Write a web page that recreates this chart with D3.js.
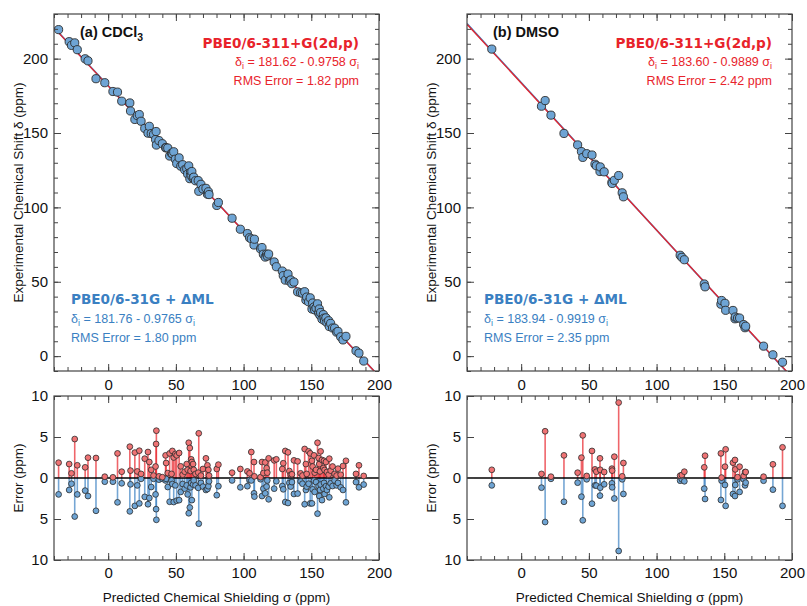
<!DOCTYPE html>
<html>
<head>
<meta charset="utf-8">
<script src="https://cdn.jsdelivr.net/npm/d3@7"></script>
<style>
  body { margin: 0; background: #fff; }
  svg { font-family: "Liberation Sans", Arial, sans-serif; }
</style>
</head>
<body>
<svg id="chart" width="807" height="606"></svg>
<script>
// ---- data ----
var xTicks = [0, 50, 100, 150, 200];
var yTicks = [0, 50, 100, 150, 200];
var errTicks = [-10, -5, 0, 5, 10];

// panel (a) CDCl3 : predicted shielding, experimental shift, |error| of each method
var sigmaA = [-36.6, -28.8, -27.1, -24.7, -22.8, -17.0, -14.9, -9.0, -2.5, 3.5,
  6.9, 10.0, 16.0, 16.5, 19.7, 21.5, 23.0, 24.3, 27.0, 29.4,
  30.4, 31.8, 33.5, 35.0, 35.4, 35.6, 37.5, 40.0, 42.4, 42.8,
  44.0, 45.4, 46.8, 47.4, 48.4, 49.6, 50.6, 52.4, 53.6, 55.0,
  56.5, 58.0, 58.7, 59.5, 60.3, 60.8, 61.3, 61.8, 62.7, 63.2,
  64.5, 66.5, 66.9, 68.5, 70.0, 72.2, 73.3, 74.0, 74.5, 80.2,
  81.4, 91.5, 97.6, 102.8, 104.4, 105.7, 107.7, 108.0, 112.5, 113.6,
  114.6, 116.0, 117.0, 117.5, 118.5, 122.6, 124.2, 128.6, 129.3, 130.8,
  132.8, 133.8, 134.8, 135.7, 137.2, 139.9, 142.1, 143.5, 145.1, 146.0,
  146.6, 148.0, 149.2, 150.5, 151.0, 152.0, 152.5, 153.5, 154.6, 155.4,
  155.9, 156.4, 156.9, 157.9, 158.9, 159.4, 159.8, 160.8, 161.5, 162.8,
  163.3, 164.3, 165.7, 167.2, 168.7, 169.7, 171.7, 173.4, 175.6, 183.0,
  185.2, 188.7];
var deltaA = [219.5, 211.4, 208.9, 210.6, 206.0, 199.9, 198.5, 186.5, 183.8, 177.9,
  177.5, 171.4, 170.2, 164.8, 159.1, 161.7, 162.4, 157.9, 153.1, 149.9,
  154.5, 149.6, 149.1, 145.6, 151.0, 141.9, 144.9, 142.8, 140.1, 140.1,
  139.9, 134.5, 136.4, 136.2, 137.4, 132.4, 129.5, 133.3, 127.7, 128.7,
  125.3, 126.0, 122.4, 127.9, 119.3, 123.5, 121.3, 124.1, 119.7, 120.3,
  117.9, 118.0, 110.8, 115.5, 112.4, 112.8, 108.9, 110.5, 108.6, 101.3,
  103.3, 92.7, 85.3, 82.4, 79.6, 78.8, 74.7, 78.6, 72.1, 73.0,
  68.5, 66.6, 68.6, 67.3, 68.6, 63.3, 60.1, 57.2, 54.1, 51.1,
  55.2, 50.5, 51.2, 48.7, 49.8, 43.2, 42.6, 42.3, 43.3, 37.7,
  39.7, 36.5, 39.2, 31.7, 35.7, 33.0, 31.1, 32.4, 35.2, 29.0,
  31.7, 27.5, 29.3, 24.9, 27.9, 25.5, 23.8, 25.7, 22.6, 23.8,
  19.9, 22.0, 18.9, 18.8, 16.1, 16.6, 13.0, 10.9, 13.3, 3.6,
  2.0, -3.3];
var errRedA = [1.87, 1.7, 0.57, 4.75, 1.55, 1.3, 2.48, 2.44, 0.16, 0.08,
  3.0, 0.77, 3.82, 0.9, 3.1, 0.8, 3.33, 0.5, 2.36, 3.17,
  1.95, 1.0, 0.3, 1.4, 4.15, 5.77, 0.2, 0.1, 2.76, 1.83,
  0.6, 3.0, 0.5, 3.3, 2.5, 2.93, 2.76, 3.05, 1.42, 0.4,
  0.77, 1.7, 1.0, 4.3, 3.66, 0.85, 2.28, 1.95, 1.7, 1.0,
  0.5, 0.65, 5.45, 0.3, 1.1, 2.4, 1.55, 1.0, 0.3, 1.1,
  1.63, 0.65, 1.1, 0.8, 0.57, 3.17, 1.95, 0.2, 0.1, 1.95,
  0.6, 1.9, 1.2, 0.65, 2.4, 2.15, 2.28, 1.1, 1.8, 3.3,
  3.13, 0.85, 0.4, 0.45, 2.15, 2.03, 0.57, 0.3, 3.54, 1.7,
  0.5, 3.25, 3.0, 2.1, 1.4, 2.76, 0.65, 1.0, 4.3, 2.44,
  1.7, 0.8, 3.25, 2.2, 1.22, 2.1, 0.98, 1.95, 0.73, 0.4,
  2.36, 0.9, 1.4, 0.5, 0.3, 1.14, 0.4, 1.46, 2.1, 0.5,
  1.55, 0.25];
var errBlueA = [2.0, 1.46, 0.7, 4.7, 2.0, 1.54, 2.2, 4.0, 0.45, 0.45,
  2.97, 0.65, 4.07, 0.77, 3.4, 0.9, 3.1, 0.1, 2.3, 3.2,
  2.44, 1.1, 0.1, 2.0, 3.8, 5.1, 0.2, 0.1, 0.3, 0.1,
  1.1, 2.9, 0.3, 0.73, 2.93, 0.9, 2.76, 2.7, 1.7, 0.73,
  1.3, 0.9, 2.0, 4.3, 3.6, 1.14, 0.6, 2.7, 0.8, 0.3,
  0.9, 1.2, 5.57, 0.6, 1.05, 1.46, 1.34, 1.0, 0.4, 2.1,
  1.0, 0.3, 1.14, 1.0, 0.25, 0.3, 1.87, 2.27, 0.15, 2.2,
  1.3, 1.87, 1.05, 0.3, 2.6, 1.3, 0.4, 0.98, 1.38, 2.93,
  3.05, 0.6, 1.05, 0.5, 1.95, 1.9, 0.4, 0.7, 3.2, 1.46,
  1.05, 0.7, 3.1, 3.1, 1.38, 0.33, 1.7, 0.5, 4.35, 1.0,
  2.2, 1.46, 0.8, 2.7, 1.3, 0.6, 1.95, 1.0, 1.46, 1.05,
  2.36, 0.65, 0.98, 0.3, 0.9, 0.6, 1.14, 1.46, 2.97, 0.5,
  1.14, 0.8];

// panel (b) DMSO
var sigmaB = [-21.7, 15.0, 17.7, 22.0, 31.6, 41.7, 44.5, 45.5, 48.4, 52.3,
  54.5, 55.5, 58.2, 58.4, 61.3, 67.0, 67.2, 68.8, 72.0, 74.6,
  75.5, 117.4, 118.7, 120.5, 135.2, 135.8, 147.5, 148.0, 150.5, 151.0,
  156.4, 157.9, 158.1, 159.8, 161.3, 164.3, 165.3, 165.8, 179.0, 185.9,
  193.0];
var deltaB = [206.4, 168.0, 171.8, 162.0, 149.7, 142.0, 137.5, 133.6, 136.1, 135.2,
  129.0, 128.0, 124.1, 127.2, 123.9, 116.8, 116.1, 118.2, 121.4, 109.8,
  107.1, 67.8, 66.4, 64.8, 48.5, 46.6, 34.9, 37.4, 35.5, 30.8,
  30.7, 25.1, 26.3, 25.6, 25.6, 21.2, 19.1, 20.1, 6.7, 0.9,
  -4.1];
var errRedB = [1.0, 0.5, 5.7, 0.16, 2.76, 0.65, 2.48, 5.2, 0.25, 3.3,
  1.05, 0.77, 2.4, 1.0, 0.73, 1.14, 0.9, 2.6, 9.2, 0.2,
  1.83, 0.28, 0.37, 0.77, 1.3, 2.72, 3.0, 0.05, 1.38, 3.5,
  1.87, 2.2, 1.05, 0.1, 1.38, 0.25, 0.73, 0.73, 0.16, 1.67,
  3.74];
var errBlueB = [0.9, 1.18, 5.37, 0.1, 2.9, 0.57, 2.28, 5.16, 0.16, 3.13,
  0.9, 0.93, 2.15, 1.18, 0.77, 0.65, 1.14, 2.5, 8.9, 0.16,
  1.95, 0.33, 0.16, 0.4, 1.3, 2.56, 2.68, 0.33, 0.85, 3.4,
  1.95, 2.2, 0.85, 0.16, 1.7, 0.16, 0.9, 0.57, 0.33, 1.42,
  3.4];

// fits: [intercept, slope] and RMS errors
var fitRedA = [181.62, 0.9758], fitBlueA = [181.76, 0.9765];
var fitRedB = [183.60, 0.9889], fitBlueB = [183.94, 0.9919];
var rmsA = [1.82, 1.80], rmsB = [2.42, 2.35];
var methodNames = ["PBE0/6-311+G(2d,p)", "PBE0/6-31G + \u0394ML"];

// ---- drawing ----
var svg = d3.select("#chart");
var red = "#e8232b", blue = "#3a80c2";
var ptBlue = "#6ea4d4", ptRed = "#ef7374";
var boldFont = "'DejaVu Sans', sans-serif";

var panels = [
  { id: "a", x0: 54, x1: 379, title: ["(a) CDCl", "3"], sigma: sigmaA, delta: deltaA,
    eR: errRedA, eB: errBlueA, fitR: fitRedA, fitB: fitBlueA, rms: rmsA },
  { id: "b", x0: 467, x1: 792, title: ["(b) DMSO", ""], sigma: sigmaB, delta: deltaB,
    eR: errRedB, eB: errBlueB, fitR: fitRedB, fitB: fitBlueB, rms: rmsB }
];

var topY0 = 14, topY1 = 371, botY0 = 396, botY1 = 560;

function tickAxis(g, axis) {
  g.call(axis);
  g.select(".domain").remove();
  g.selectAll(".tick line").attr("stroke", "#444");
  g.selectAll("text").attr("fill", "#111")
    .style("font-size", "15px").style("font-family", "'Liberation Sans', Arial, sans-serif");
}

function subText(sel, parts, size) {
  parts.forEach(function(p) {
    if (!p.t) return;
    var ts = sel.append("tspan").text(p.t);
    if (p.sub) ts.style("font-size", (size * 0.72) + "px").attr("dy", size * 0.25);
    else if (p.after) ts.attr("dy", -size * 0.25);
  });
}

panels.forEach(function(p) {
  var x = d3.scaleLinear().domain([-40, 200]).range([p.x0, p.x1]);
  var y = d3.scaleLinear().domain([-10, 230]).range([topY1, topY0]);
  var ye = d3.scaleLinear().domain([-10, 10]).range([botY1, botY0]);
  var minor = d3.range(-40, 201, 10);
  var minorY = d3.range(-10, 231, 10);
  var pw = p.x1 - p.x0;

  svg.append("clipPath").attr("id", "clip" + p.id)
    .append("rect").attr("x", p.x0).attr("y", topY0)
    .attr("width", pw).attr("height", topY1 - topY0);

  // ---- top scatter ----
  var g = svg.append("g");
  var lineFor = function(fit) {
    return d3.line().x(function(s) { return x(s); })
      .y(function(s) { return y(fit[0] - fit[1] * s); })([-40, 200]);
  };
  var lines = g.append("g").attr("clip-path", "url(#clip" + p.id + ")");
  lines.append("path").attr("d", lineFor(p.fitB)).attr("stroke", blue)
    .attr("stroke-width", 1.6).attr("fill", "none");
  lines.append("path").attr("d", lineFor(p.fitR)).attr("stroke", red)
    .attr("stroke-width", 1.3).attr("fill", "none");

  g.append("g").selectAll("circle").data(p.sigma).enter().append("circle")
    .attr("cx", function(d) { return x(d); })
    .attr("cy", function(d, i) { return y(p.delta[i]); })
    .attr("r", 4.1)
    .attr("fill", ptBlue).attr("stroke", "#2b2b2b").attr("stroke-width", 0.9);

  // axes top panel (ticks inward)
  tickAxis(g.append("g").attr("transform", "translate(" + p.x0 + ",0)"),
    d3.axisLeft(y).tickValues(minorY).tickSize(-4).tickFormat(""));
  tickAxis(g.append("g").attr("transform", "translate(" + p.x0 + ",0)"),
    d3.axisLeft(y).tickValues(yTicks).tickSize(-7).tickPadding(6));
  tickAxis(g.append("g").attr("transform", "translate(" + p.x1 + ",0)"),
    d3.axisRight(y).tickValues(minorY).tickSize(-4).tickFormat(""));
  tickAxis(g.append("g").attr("transform", "translate(" + p.x1 + ",0)"),
    d3.axisRight(y).tickValues(yTicks).tickSize(-7).tickFormat(""));
  tickAxis(g.append("g").attr("transform", "translate(0," + topY1 + ")"),
    d3.axisBottom(x).tickValues(minor).tickSize(-4).tickFormat(""));
  tickAxis(g.append("g").attr("transform", "translate(0," + topY1 + ")"),
    d3.axisBottom(x).tickValues(xTicks).tickSize(-7).tickPadding(8));
  tickAxis(g.append("g").attr("transform", "translate(0," + topY0 + ")"),
    d3.axisTop(x).tickValues(minor).tickSize(-4).tickFormat(""));
  tickAxis(g.append("g").attr("transform", "translate(0," + topY0 + ")"),
    d3.axisTop(x).tickValues(xTicks).tickSize(-7).tickFormat(""));
  g.append("rect").attr("x", p.x0).attr("y", topY0).attr("width", pw)
    .attr("height", topY1 - topY0).attr("fill", "none")
    .attr("stroke", "#444").attr("stroke-width", 1.2);

  g.append("text").attr("transform", "translate(" + (p.x0 - 31) + "," + ((topY0 + topY1) / 2) + ") rotate(-90)")
    .attr("text-anchor", "middle").style("font-size", "13.5px").attr("fill", "#111")
    .text("Experimental Chemical Shift \u03b4 (ppm)");

  // annotations
  var tt = g.append("text").attr("x", p.x0 + 26).attr("y", 37)
    .style("font-size", "14.5px").style("font-weight", "bold").attr("fill", "#111");
  subText(tt, [{ t: p.title[0] }, { t: p.title[1], sub: true }], 14.5);

  var rx = p.x1 - 20;
  g.append("text").attr("x", rx).attr("y", 48).attr("text-anchor", "end")
    .style("font-family", boldFont).style("font-weight", "bold")
    .style("font-size", "13.6px").attr("fill", red).text(methodNames[0]);
  var eq = function(fit) {
    return [{ t: "\u03b4" }, { t: "i", sub: true },
      { t: " = " + fit[0].toFixed(2) + " - " + fit[1].toFixed(4) + " \u03c3", after: true },
      { t: "i", sub: true }];
  };
  subText(g.append("text").attr("x", rx).attr("y", 66).attr("text-anchor", "end")
    .style("font-size", "12.5px").attr("fill", red), eq(p.fitR), 12.5);
  g.append("text").attr("x", rx).attr("y", 85).attr("text-anchor", "end")
    .style("font-size", "12.5px").attr("fill", red)
    .text("RMS Error = " + p.rms[0].toFixed(2) + " ppm");

  var lx = p.x0 + 17;
  g.append("text").attr("x", lx).attr("y", 304)
    .style("font-family", boldFont).style("font-weight", "bold")
    .style("font-size", "13.6px").attr("fill", blue).text(methodNames[1]);
  subText(g.append("text").attr("x", lx).attr("y", 323)
    .style("font-size", "12.5px").attr("fill", blue), eq(p.fitB), 12.5);
  g.append("text").attr("x", lx).attr("y", 342)
    .style("font-size", "12.5px").attr("fill", blue)
    .text("RMS Error = " + p.rms[1].toFixed(2) + " ppm");

  // ---- bottom error panel ----
  var b = svg.append("g");
  b.append("g").selectAll("line").data(p.sigma).enter().append("line")
    .attr("x1", function(d) { return x(d); }).attr("x2", function(d) { return x(d); })
    .attr("y1", ye(0)).attr("y2", function(d, i) { return ye(-p.eB[i]); })
    .attr("stroke", blue).attr("stroke-width", 1.6).attr("stroke-opacity", 0.7);
  b.append("g").selectAll("line").data(p.sigma).enter().append("line")
    .attr("x1", function(d) { return x(d); }).attr("x2", function(d) { return x(d); })
    .attr("y1", ye(0)).attr("y2", function(d, i) { return ye(p.eR[i]); })
    .attr("stroke", red).attr("stroke-width", 1.6).attr("stroke-opacity", 0.7);
  b.append("line").attr("x1", p.x0).attr("x2", p.x1).attr("y1", ye(0)).attr("y2", ye(0))
    .attr("stroke", "#000").attr("stroke-width", 1.6);
  b.append("g").selectAll("circle").data(p.sigma).enter().append("circle")
    .attr("cx", function(d) { return x(d); })
    .attr("cy", function(d, i) { return ye(-p.eB[i]); })
    .attr("r", 2.9).attr("fill", ptBlue).attr("stroke", "#2b2b2b").attr("stroke-width", 0.8);
  b.append("g").selectAll("circle").data(p.sigma).enter().append("circle")
    .attr("cx", function(d) { return x(d); })
    .attr("cy", function(d, i) { return ye(p.eR[i]); })
    .attr("r", 2.9).attr("fill", ptRed).attr("stroke", "#2b2b2b").attr("stroke-width", 0.8);

  tickAxis(b.append("g").attr("transform", "translate(" + p.x0 + ",0)"),
    d3.axisLeft(ye).tickValues(errTicks).tickSize(-7).tickPadding(6)
      .tickFormat(function(d) { return Math.abs(d); }));
  tickAxis(b.append("g").attr("transform", "translate(" + p.x1 + ",0)"),
    d3.axisRight(ye).tickValues(errTicks).tickSize(-7).tickFormat(""));
  tickAxis(b.append("g").attr("transform", "translate(0," + botY1 + ")"),
    d3.axisBottom(x).tickValues(minor).tickSize(-4).tickFormat(""));
  tickAxis(b.append("g").attr("transform", "translate(0," + botY1 + ")"),
    d3.axisBottom(x).tickValues(xTicks).tickSize(-7).tickPadding(7));
  tickAxis(b.append("g").attr("transform", "translate(0," + botY0 + ")"),
    d3.axisTop(x).tickValues(minor).tickSize(-4).tickFormat(""));
  tickAxis(b.append("g").attr("transform", "translate(0," + botY0 + ")"),
    d3.axisTop(x).tickValues(xTicks).tickSize(-7).tickFormat(""));
  b.append("rect").attr("x", p.x0).attr("y", botY0).attr("width", pw)
    .attr("height", botY1 - botY0).attr("fill", "none")
    .attr("stroke", "#444").attr("stroke-width", 1.2);

  b.append("text").attr("transform", "translate(" + (p.x0 - 31) + "," + ((botY0 + botY1) / 2) + ") rotate(-90)")
    .attr("text-anchor", "middle").style("font-size", "13.5px").attr("fill", "#111")
    .text("Error (ppm)");
  b.append("text").attr("x", (p.x0 + p.x1) / 2).attr("y", 602)
    .attr("text-anchor", "middle").style("font-size", "13.5px").attr("fill", "#111")
    .text("Predicted Chemical Shielding \u03c3 (ppm)");
});
</script>
</body>
</html>
